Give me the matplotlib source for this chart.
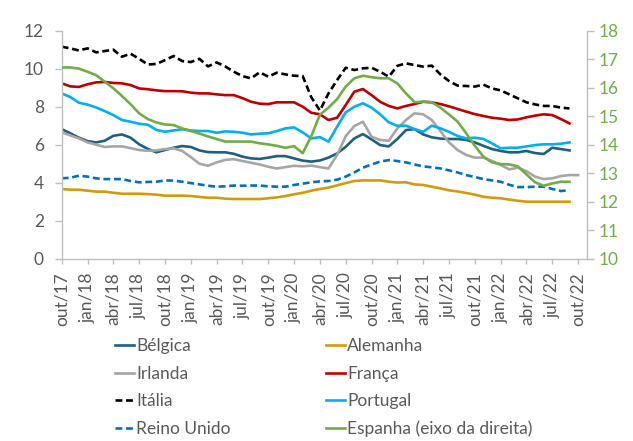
import matplotlib
matplotlib.use("Agg")
import matplotlib.pyplot as plt
from matplotlib.lines import Line2D

# ---------------- data ----------------
tick_labels = ["out/17", "jan/18", "abr/18", "jul/18", "out/18", "jan/19", "abr/19",
               "jul/19", "out/19", "jan/20", "abr/20", "jul/20", "out/20", "jan/21",
               "abr/21", "jul/21", "out/21", "jan/22", "abr/22", "jul/22", "out/22"]

belgica = [6.82, 6.60, 6.37, 6.19, 6.12, 6.21, 6.47, 6.54, 6.37, 6.02, 5.78,
           5.60, 5.72, 5.84, 5.93, 5.88, 5.70, 5.61, 5.60, 5.60, 5.52,
           5.37, 5.28, 5.25, 5.32, 5.40, 5.40, 5.28, 5.16, 5.11, 5.17,
           5.32, 5.54, 5.89, 6.33, 6.56, 6.28, 5.98, 5.91, 6.30, 6.77,
           6.82, 6.54, 6.39, 6.32, 6.30, 6.30, 6.25, 6.12, 5.94, 5.77,
           5.67, 5.60, 5.60, 5.67, 5.56, 5.51, 5.84, 5.77, 5.70]

alemanha = [3.67, 3.63, 3.63, 3.58, 3.53, 3.53, 3.47, 3.42, 3.42, 3.42, 3.40,
            3.37, 3.32, 3.32, 3.32, 3.30, 3.25, 3.21, 3.21, 3.16, 3.14,
            3.14, 3.14, 3.14, 3.18, 3.23, 3.30, 3.39, 3.47, 3.58, 3.67,
            3.74, 3.86, 3.98, 4.09, 4.12, 4.12, 4.12, 4.05, 4.01, 4.02,
            3.91, 3.88, 3.79, 3.70, 3.60, 3.54, 3.46, 3.37, 3.26, 3.21,
            3.18, 3.11, 3.05, 3.00, 3.00, 3.00, 3.00, 3.00, 3.00]

irlanda = [6.65, 6.49, 6.33, 6.12, 6.00, 5.88, 5.91, 5.91, 5.82, 5.72, 5.68,
           5.70, 5.77, 5.81, 5.67, 5.35, 5.00, 4.89, 5.07, 5.20, 5.24,
           5.14, 5.05, 4.96, 4.84, 4.75, 4.82, 4.89, 4.86, 4.90, 4.82,
           4.75, 5.46, 6.45, 6.98, 7.21, 6.42, 6.25, 6.21, 6.86, 7.30,
           7.65, 7.60, 7.30, 6.72, 6.12, 5.72, 5.46, 5.32, 5.32, 5.14,
           4.93, 4.70, 4.79, 4.61, 4.32, 4.19, 4.23, 4.35, 4.40, 4.40]

franca = [9.23, 9.07, 9.04, 9.18, 9.28, 9.30, 9.25, 9.23, 9.14, 8.96, 8.92,
          8.86, 8.82, 8.82, 8.81, 8.74, 8.70, 8.70, 8.65, 8.61, 8.61,
          8.45, 8.26, 8.16, 8.14, 8.23, 8.23, 8.23, 8.00, 7.68, 7.60,
          7.30, 7.42, 8.09, 8.79, 8.93, 8.61, 8.26, 8.04, 7.91, 8.04,
          8.14, 8.26, 8.23, 8.14, 8.02, 7.88, 7.74, 7.61, 7.51, 7.42,
          7.37, 7.30, 7.33, 7.44, 7.53, 7.60, 7.56, 7.35, 7.12]

italia = [11.16, 11.07, 10.96, 11.07, 10.86, 10.93, 11.00, 10.63, 10.79, 10.52, 10.22,
          10.25, 10.45, 10.67, 10.40, 10.35, 10.52, 10.12, 10.33, 10.12, 9.84,
          9.61, 9.49, 9.81, 9.58, 9.79, 9.70, 9.63, 9.61, 8.50, 7.80,
          8.70, 9.40, 10.05, 9.93, 10.02, 10.05, 9.84, 9.58, 10.15, 10.28,
          10.19, 10.11, 10.16, 9.70, 9.35, 9.11, 9.09, 9.06, 9.16, 8.96,
          8.86, 8.65, 8.44, 8.23, 8.12, 8.04, 8.04, 7.95, 7.91]

portugal = [8.70, 8.51, 8.21, 8.11, 7.96, 7.77, 7.56, 7.30, 7.21, 7.10, 7.05,
            6.78, 6.68, 6.75, 6.81, 6.75, 6.72, 6.72, 6.63, 6.70, 6.68,
            6.63, 6.54, 6.58, 6.60, 6.72, 6.86, 6.91, 6.65, 6.33, 6.40,
            6.16, 6.95, 7.70, 8.00, 8.18, 7.95, 7.60, 7.18, 6.99, 7.00,
            6.82, 6.68, 7.00, 6.86, 6.68, 6.46, 6.33, 6.37, 6.30, 6.07,
            5.81, 5.84, 5.84, 5.91, 5.98, 6.02, 6.02, 6.05, 6.12]

reino_unido = [4.23, 4.26, 4.37, 4.32, 4.23, 4.19, 4.19, 4.19, 4.09, 4.02, 4.04,
               4.05, 4.12, 4.11, 4.05, 3.98, 3.91, 3.84, 3.79, 3.81, 3.85,
               3.84, 3.85, 3.85, 3.81, 3.79, 3.79, 3.88, 3.95, 4.02, 4.07,
               4.09, 4.16, 4.32, 4.54, 4.79, 4.96, 5.11, 5.19, 5.14, 5.07,
               4.96, 4.86, 4.81, 4.75, 4.65, 4.54, 4.40, 4.30, 4.19, 4.12,
               4.05, 3.89, 3.77, 3.77, 3.79, 3.79, 3.67, 3.56, 3.61]

espanha = [16.71, 16.71, 16.67, 16.56, 16.44, 16.21, 15.98, 15.71, 15.42, 15.10, 14.90,
           14.78, 14.71, 14.69, 14.57, 14.48, 14.39, 14.29, 14.20, 14.11, 14.11,
           14.11, 14.11, 14.05, 14.01, 13.96, 13.89, 13.95, 13.70, 14.30, 15.05,
           15.30, 15.60, 16.04, 16.33, 16.42, 16.37, 16.33, 16.33, 16.15, 15.80,
           15.49, 15.51, 15.49, 15.30, 15.06, 14.81, 14.40, 13.96, 13.58, 13.38,
           13.32, 13.31, 13.24, 12.96, 12.68, 12.56, 12.64, 12.70, 12.70]

# ---------------- style ----------------
plt.rcParams["font.family"] = ["Lato", "DejaVu Sans"]
TXT = "#595959"
GRID = "#BFBFBF"
FS = 12.5
LW = 1.9
DASH = (2.6, 1.4)

c_bel = "#1F5F7F"
c_ale = "#D29B0C"
c_irl = "#A6A6A6"
c_fra = "#C00000"
c_ita = "#000000"
c_por = "#00B0F0"
c_uk = "#0070C0"
c_esp = "#70AD47"

W, H = 633, 441
fig = plt.figure(figsize=(W / 100, H / 100), dpi=100)
x0, x1, y0, y1 = 61.7, 586.7, 30.7, 258.7
ax = fig.add_axes([x0 / W, 1 - y1 / H, (x1 - x0) / W, (y1 - y0) / H])
ax2 = ax.twinx()

def xs(n):
    return list(range(n))

ax.plot(xs(len(belgica)), belgica, color=c_bel, lw=LW, label="Bélgica")
ax.plot(xs(len(alemanha)), alemanha, color=c_ale, lw=LW, label="Alemanha")
ax.plot(xs(len(irlanda)), irlanda, color=c_irl, lw=LW, label="Irlanda")
ax.plot(xs(len(franca)), franca, color=c_fra, lw=LW, label="França")
ax.plot(xs(len(italia)), italia, color=c_ita, lw=LW, dashes=DASH, label="Itália")
ax.plot(xs(len(portugal)), portugal, color=c_por, lw=LW, label="Portugal")
ax.plot(xs(len(reino_unido)), reino_unido, color=c_uk, lw=LW, dashes=DASH, label="Reino Unido")
ax2.plot(xs(len(espanha)), espanha, color=c_esp, lw=LW, label="Espanha (eixo da direita)")

ax.set_xlim(0, 61)
ax.set_ylim(0, 12)
ax2.set_ylim(10, 18)
ax.set_yticks(range(0, 13, 2))
ax2.set_yticks(range(10, 19, 1))
ax.set_xticks(range(0, 61, 3))
ax.set_xticklabels(tick_labels, rotation=90)

for a in (ax, ax2):
    a.spines["top"].set_visible(False)
    for s in ("left", "right", "bottom"):
        a.spines[s].set_color(GRID)
        a.spines[s].set_linewidth(1.0)
ax.spines["right"].set_visible(False)
ax2.spines["left"].set_visible(False)
ax2.spines["bottom"].set_visible(False)

ax.tick_params(axis="both", colors=GRID, labelcolor=TXT, labelsize=FS, length=4.8, width=1)
ax.tick_params(axis="y", pad=8)
ax.tick_params(axis="x", length=3.5, pad=6.5)
ax2.tick_params(axis="y", colors=GRID, labelcolor=c_esp, labelsize=FS, length=4.8, width=1, pad=3.5)

# legend: two columns placed under the chart
def handle(color, dashed=False):
    if dashed:
        return Line2D([], [], color=color, lw=LW, dashes=DASH)
    return Line2D([], [], color=color, lw=LW)

col1 = [(handle(c_bel), "Bélgica"), (handle(c_irl), "Irlanda"),
        (handle(c_ita, True), "Itália"), (handle(c_uk, True), "Reino Unido")]
col2 = [(handle(c_ale), "Alemanha"), (handle(c_fra), "França"),
        (handle(c_por), "Portugal"), (handle(c_esp), "Espanha (eixo da direita)")]

for items, xpos in ((col1, 115), (col2, 326)):
    leg = fig.legend([h for h, _ in items], [t for _, t in items],
                     loc="upper left", bbox_to_anchor=(xpos / W, 1 - 338 / H),
                     frameon=False, fontsize=FS, handlelength=1.1,
                     handletextpad=0.12, labelspacing=0.67, borderpad=0,
                     borderaxespad=0)
    for t in leg.get_texts():
        t.set_color(TXT)

fig.savefig("out.png", dpi=100)
